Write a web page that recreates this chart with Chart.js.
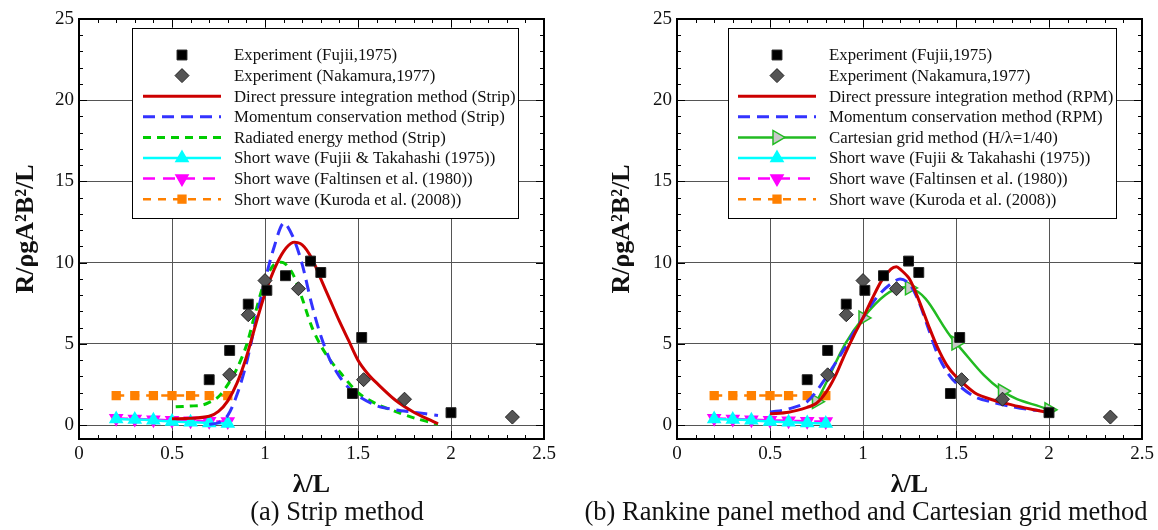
<!DOCTYPE html>
<html>
<head>
<meta charset="utf-8">
<script src="https://cdn.jsdelivr.net/npm/chart.js@4.4.0/dist/chart.umd.min.js"></script>
<style>
  body { margin: 0; background: #fff; width: 1158px; height: 530px; position: relative; overflow: hidden; }
  .painel { position: absolute; top: 0; width: 579px; height: 530px; }
</style>
</head>
<body>
<div class="painel" style="left:0"><canvas id="graficoStrip"></canvas></div>
<div class="painel" style="left:579px"><canvas id="graficoRpm"></canvas></div>
<script>
// Eixos
const xTicks = [0, 0.5, 1, 1.5, 2, 2.5];
const yTicks = [0, 5, 10, 15, 20, 25];

// Experimentos (iguais nos dois graficos)
const fujiiX = [0.70, 0.81, 0.91, 1.01, 1.11, 1.245, 1.30, 1.47, 1.52, 2.0];
const fujiiY = [2.8, 4.6, 7.45, 8.3, 9.2, 10.1, 9.4, 1.95, 5.4, 0.77];
const nakamuraX = [0.81, 0.91, 1.0, 1.18, 1.53, 1.75, 2.33];
const nakamuraY = [3.1, 6.8, 8.9, 8.4, 2.8, 1.6, 0.5];

// Ondas curtas
const ondaCurtaX = [0.2, 0.3, 0.4, 0.5, 0.6, 0.7, 0.8];
const fujiiTakahashiY = [0.38, 0.35, 0.3, 0.23, 0.18, 0.14, 0.1];
const faltinsenY = [0.42, 0.38, 0.34, 0.3, 0.27, 0.24, 0.22];
const kurodaY = [1.82, 1.82, 1.82, 1.82, 1.82, 1.82, 1.82];

// (a) Strip method
const pressaoStripX = [0.5, 0.6, 0.7, 0.75, 0.8, 0.85, 0.9, 0.95, 1.0, 1.05, 1.1, 1.15, 1.2, 1.25, 1.3, 1.35, 1.4, 1.45, 1.5, 1.55, 1.6, 1.7, 1.8, 1.9, 1.93];
const pressaoStripY = [0.4, 0.42, 0.55, 0.85, 1.5, 2.6, 4.2, 6.2, 8.1, 9.6, 10.7, 11.25, 11.1, 10.3, 9.0, 7.7, 6.4, 5.2, 4.0, 3.2, 2.6, 1.55, 0.8, 0.25, 0.1];
const momentoStripX = [0.7, 0.75, 0.8, 0.85, 0.9, 0.95, 1.0, 1.05, 1.1, 1.15, 1.2, 1.25, 1.3, 1.35, 1.4, 1.45, 1.5, 1.6, 1.7, 1.8, 1.93];
const momentoStripY = [0.05, 0.15, 0.6, 1.9, 3.8, 6.4, 8.9, 11.0, 12.45, 11.6, 9.9, 7.5, 5.5, 4.0, 3.0, 2.3, 1.8, 1.2, 0.95, 0.8, 0.6];
const energiaStripX = [0.52, 0.6, 0.66, 0.7, 0.75, 0.8, 0.85, 0.9, 0.95, 1.0, 1.05, 1.1, 1.15, 1.2, 1.25, 1.3, 1.35, 1.4, 1.5, 1.6, 1.7, 1.8, 1.93];
const energiaStripY = [1.13, 1.18, 1.23, 1.4, 1.75, 2.5, 3.5, 4.9, 7.0, 8.9, 9.9, 10.0, 9.3, 7.8, 6.1, 4.9, 4.0, 3.3, 2.0, 1.3, 0.85, 0.45, 0.06];

// (b) Rankine panel method e Cartesian grid
const pressaoRpmX = [0.5, 0.6, 0.7, 0.75, 0.8, 0.85, 0.9, 0.95, 1.0, 1.05, 1.1, 1.15, 1.18, 1.2, 1.25, 1.3, 1.35, 1.4, 1.45, 1.5, 1.6, 1.7, 1.8, 1.9, 2.0];
const pressaoRpmY = [0.7, 0.8, 1.1, 1.35, 2.0, 3.0, 4.3, 5.5, 6.6, 7.8, 8.9, 9.6, 9.75, 9.6, 9.0, 7.7, 6.2, 4.8, 3.7, 3.0, 2.0, 1.55, 1.25, 1.0, 0.78];
const momentoRpmX = [0.5, 0.6, 0.7, 0.8, 0.85, 0.9, 0.95, 1.0, 1.05, 1.1, 1.15, 1.2, 1.25, 1.3, 1.35, 1.4, 1.45, 1.5, 1.6, 1.7, 1.8, 1.9, 1.95];
const momentoRpmY = [0.8, 1.0, 1.45, 2.9, 3.8, 4.7, 5.7, 6.6, 7.5, 8.2, 8.7, 9.0, 8.7, 7.6, 6.0, 4.4, 3.3, 2.6, 1.75, 1.4, 1.15, 0.95, 0.9];
const cartesianoX = [0.75, 1.0, 1.25, 1.5, 1.75, 2.0];
const cartesianoY = [1.45, 6.6, 8.45, 5.05, 2.1, 0.95];

const fonte = "'Liberation Serif', 'Times New Roman', serif";

function pontos(xs, ys) {
  return xs.map((x, i) => ({ x: x, y: ys[i] }));
}

function serieExperimento(label, xs, ys, estilo, cor) {
  return {
    label, data: pontos(xs, ys), showLine: false,
    pointStyle: estilo, pointRadius: 7, pointBackgroundColor: cor,
    pointBorderColor: '#222', pointBorderWidth: 1
  };
}

function serieCurva(label, xs, ys, cor, dash) {
  return {
    label, data: pontos(xs, ys), showLine: true, borderColor: cor, borderWidth: 3,
    borderDash: dash, pointRadius: 0, tension: 0.3
  };
}

function serieMarcada(label, xs, ys, cor, dash, estilo, rot, raio, fundo) {
  return {
    label, data: pontos(xs, ys), showLine: true, borderColor: cor, borderWidth: 2.5,
    borderDash: dash, pointStyle: estilo, rotation: rot, pointRadius: raio,
    pointBackgroundColor: fundo || cor, pointBorderColor: cor, pointBorderWidth: 1.5, tension: 0.4
  };
}

function ondasCurtas() {
  return [
    serieMarcada('Short wave (Fujii & Takahashi (1975))', ondaCurtaX, fujiiTakahashiY, '#00ffff', [], 'triangle', 0, 7),
    serieMarcada('Short wave (Faltinsen et al. (1980))', ondaCurtaX, faltinsenY, '#ff00ff', [12, 8], 'triangle', 180, 7),
    serieMarcada('Short wave (Kuroda et al. (2008))', ondaCurtaX, kurodaY, '#ff8000', [8, 7], 'rect', 0, 5.5)
  ];
}

// Moldura, ticks internos, legenda e subtitulo
const decoracao = {
  id: 'decoracao',
  afterDraw(chart, args, opts) {
    const ctx = chart.ctx;
    const a = chart.chartArea;
    const sx = chart.scales.x, sy = chart.scales.y;
    ctx.save();
    ctx.strokeStyle = '#000';
    ctx.lineWidth = 1;
    ctx.setLineDash([]);
    for (let i = 0; i <= 25; i++) {
      const v = i / 10;
      const px = Math.round(sx.getPixelForValue(v)) + 0.5;
      const len = i % 5 === 0 ? 8 : 4;
      ctx.beginPath();
      ctx.moveTo(px, a.bottom); ctx.lineTo(px, a.bottom - len);
      ctx.moveTo(px, a.top); ctx.lineTo(px, a.top + len);
      ctx.stroke();
    }
    for (let v = 0; v <= 25; v++) {
      const py = Math.round(sy.getPixelForValue(v)) + 0.5;
      const len = v % 5 === 0 ? 8 : 4;
      ctx.beginPath();
      ctx.moveTo(a.left, py); ctx.lineTo(a.left + len, py);
      ctx.moveTo(a.right, py); ctx.lineTo(a.right - len, py);
      ctx.stroke();
    }
    ctx.lineWidth = 2;
    ctx.strokeRect(a.left, a.top, a.right - a.left, a.bottom - a.top);

    // legenda
    const L = opts.legenda;
    ctx.fillStyle = '#fff';
    ctx.fillRect(L.x, L.y, L.w, L.h);
    ctx.lineWidth = 1;
    ctx.strokeStyle = '#000';
    ctx.strokeRect(L.x + 0.5, L.y + 0.5, L.w, L.h);
    ctx.font = '16.8px ' + fonte;
    ctx.textBaseline = 'middle';
    chart.data.datasets.forEach((ds, i) => {
      const y = L.linha0 + i * L.passo;
      if (ds.showLine) {
        ctx.strokeStyle = ds.borderColor;
        ctx.lineWidth = ds.borderWidth;
        ctx.setLineDash(ds.borderDash || []);
        ctx.beginPath();
        ctx.moveTo(L.amostra0, y); ctx.lineTo(L.amostra1, y);
        ctx.stroke();
      }
      if (ds.pointRadius > 0) {
        ctx.setLineDash([]);
        ctx.fillStyle = ds.pointBackgroundColor;
        ctx.strokeStyle = ds.pointBorderColor;
        ctx.lineWidth = ds.pointBorderWidth;
        Chart.helpers.drawPoint(ctx, { pointStyle: ds.pointStyle, rotation: ds.rotation || 0, radius: ds.pointRadius, borderWidth: ds.pointBorderWidth }, (L.amostra0 + L.amostra1) / 2, y);
      }
      ctx.fillStyle = '#111';
      ctx.textAlign = 'left';
      ctx.fillText(ds.label, L.texto, y + 1);
    });

    // subtitulo
    ctx.font = '26.5px ' + fonte;
    ctx.fillStyle = '#111';
    ctx.textAlign = 'center';
    ctx.fillText(opts.subtitulo, opts.subX, 513);
    ctx.restore();
  }
};

function criarGrafico(id, datasets, cfg) {
  const ctx = document.getElementById(id).getContext('2d');
  return new Chart(ctx, {
    type: 'scatter',
    data: { datasets },
    options: {
      responsive: true,
      maintainAspectRatio: false,
      animation: false,
      layout: { padding: { left: 0, top: 19, right: cfg.direita, bottom: 0 } },
      plugins: {
        legend: { display: false },
        tooltip: { enabled: false },
        decoracao: { legenda: cfg.legenda, subtitulo: cfg.subtitulo, subX: cfg.subX }
      },
      scales: {
        x: {
          type: 'linear', min: xTicks[0], max: xTicks[xTicks.length - 1],
          afterBuildTicks: s => { s.ticks = xTicks.map(v => ({ value: v })); },
          afterFit: s => { s.height = 91; },
          ticks: { font: { family: fonte, size: 19 }, color: '#111', padding: 4, maxRotation: 0, callback: v => String(v) },
          grid: { color: '#555', lineWidth: 1, drawTicks: false },
          border: { display: false },
          title: { display: true, text: 'λ/L', font: { family: fonte, size: 26, weight: 'bold' }, color: '#111', padding: { top: 0, bottom: 29 } }
        },
        y: {
          type: 'linear', min: -0.85, max: 25,
          afterBuildTicks: s => { s.ticks = yTicks.map(v => ({ value: v })); },
          afterFit: s => { s.width = cfg.larguraY; },
          ticks: { font: { family: fonte, size: 19 }, color: '#111', padding: 5 },
          grid: { color: '#555', lineWidth: 1, drawTicks: false },
          border: { display: false },
          title: { display: true, text: 'R/ρgA²B²/L', font: { family: fonte, size: 26, weight: 'bold' }, color: '#111', padding: { top: cfg.tituloY, bottom: 0 } }
        }
      }
    },
    plugins: [decoracao]
  });
}

criarGrafico('graficoStrip', [
  serieExperimento('Experiment (Fujii,1975)', fujiiX, fujiiY, 'rect', '#000'),
  serieExperimento('Experiment (Nakamura,1977)', nakamuraX, nakamuraY, 'rectRot', '#555'),
  serieCurva('Direct pressure integration method (Strip)', pressaoStripX, pressaoStripY, '#cc0000', []),
  serieCurva('Momentum conservation method (Strip)', momentoStripX, momentoStripY, '#3333ff', [12, 7]),
  serieCurva('Radiated energy method (Strip)', energiaStripX, energiaStripY, '#00cc00', [8, 6]),
  ...ondasCurtas()
], {
  direita: 35, larguraY: 79, tituloY: 11,
  subtitulo: '(a) Strip method', subX: 337,
  legenda: { x: 132, y: 28, w: 386, h: 190, linha0: 55, passo: 20.6, amostra0: 143, amostra1: 221, texto: 234 }
});

criarGrafico('graficoRpm', [
  serieExperimento('Experiment (Fujii,1975)', fujiiX, fujiiY, 'rect', '#000'),
  serieExperimento('Experiment (Nakamura,1977)', nakamuraX, nakamuraY, 'rectRot', '#555'),
  serieCurva('Direct pressure integration method (RPM)', pressaoRpmX, pressaoRpmY, '#cc0000', []),
  serieCurva('Momentum conservation method (RPM)', momentoRpmX, momentoRpmY, '#3333ff', [12, 7]),
  serieMarcada('Cartesian grid method (H/λ=1/40)', cartesianoX, cartesianoY, '#22bb22', [], 'triangle', 90, 8, '#c8c8c8'),
  ...ondasCurtas()
], {
  direita: 16, larguraY: 98, tituloY: 28,
  subtitulo: '(b) Rankine panel method and Cartesian grid method', subX: 287,
  legenda: { x: 149, y: 28, w: 388, h: 190, linha0: 55, passo: 20.6, amostra0: 159, amostra1: 237, texto: 250 }
});
</script>
</body>
</html>
